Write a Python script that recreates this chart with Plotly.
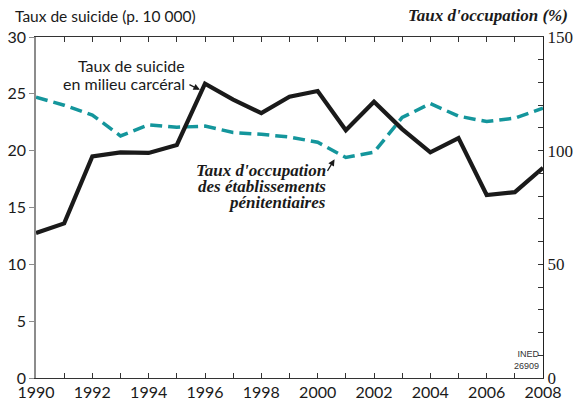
import plotly.graph_objects as go

years = list(range(1990, 2009))
suicide = [12.75, 13.6, 19.5, 19.85, 19.8, 20.5, 25.9, 24.5, 23.3, 24.75, 25.25,
           21.8, 24.3, 21.9, 19.85, 21.1, 16.1, 16.35, 18.5]
occupation = [123.5, 120.0, 115.7, 106.5, 111.4, 110.3, 110.8, 108.0, 107.2, 106.0, 103.7,
              97.0, 99.3, 114.6, 120.7, 115.2, 112.8, 114.3, 118.7]

x_ticktext = [str(y) if y % 2 == 0 else "" for y in years]
left_ticks = [0, 5, 10, 15, 20, 25, 30]
right_ticks = list(range(0, 151, 10))
right_ticktext = [str(v) if v % 50 == 0 else "" for v in right_ticks]

suicide_label = ["Taux de suicide", "en milieu carcéral"]
occupation_label = ["Taux d'occupation", "des établissements", "pénitentiaires"]

SANS = "Lato, Noto Sans, sans-serif"
SERIF = "Liberation Serif, DejaVu Serif, serif"
TEAL = "#14969c"

fig = go.Figure()

# occupation on the base axis (drawn first, so the black line sits on top)
fig.add_trace(go.Scatter(
    x=years, y=occupation, mode="lines", yaxis="y",
    line=dict(color=TEAL, width=3.5, dash="12px,6px"),
    showlegend=False, hoverinfo="skip"))

fig.add_trace(go.Scatter(
    x=years, y=suicide, mode="lines", yaxis="y2",
    line=dict(color="#1a1a1a", width=4.2),
    showlegend=False, hoverinfo="skip"))

fig.update_layout(
    width=581, height=400,
    margin=dict(l=36, r=38, t=37, b=22),
    paper_bgcolor="white", plot_bgcolor="white",
    font=dict(family=SANS, size=15, color="#1a1a1a"),
    xaxis=dict(
        range=[1990, 2008], tickvals=years, ticktext=x_ticktext,
        automargin=False, showgrid=False, zeroline=False,
        showline=True, linecolor="#333", linewidth=1.3, mirror="ticks",
        ticks="inside", ticklen=5, tickcolor="#333", tickwidth=1,
        ticklabelstandoff=0,
        tickfont=dict(family=SANS, size=16, color="#1a1a1a"),
    ),
    yaxis=dict(
        side="right", range=[0, 150], tickvals=right_ticks, ticktext=right_ticktext,
        automargin=False, showgrid=False, zeroline=False,
        showline=True, linecolor="#222", linewidth=1.3,
        ticks="inside", ticklen=5, tickcolor="#333", tickwidth=1,
        tickfont=dict(family=SERIF, size=17, color="#1a1a1a"),
    ),
    yaxis2=dict(
        overlaying="y", side="left", range=[0, 30], tickvals=left_ticks,
        automargin=False, showgrid=False, zeroline=False,
        showline=True, linecolor="#8c8c8c", linewidth=1.5,
        ticks="outside", ticklen=5, tickcolor="#8c8c8c", tickwidth=1,
        tickfont=dict(family=SANS, size=16, color="#1a1a1a"),
    ),
)

annotations = [
    dict(xref="paper", yref="paper", x=-0.045, y=1.03, xanchor="left", yanchor="bottom",
         text="Taux de suicide (p. 10 000)", showarrow=False,
         font=dict(family=SANS, size=15.5, color="#1a1a1a")),
    dict(xref="paper", yref="paper", x=1.053, y=1.03, xanchor="right", yanchor="bottom",
         text="<b><i>Taux d'occupation (%)</i></b>", showarrow=False,
         font=dict(family=SERIF, size=17, color="#1a1a1a")),
    dict(xref="x", yref="y2", x=1995.82, y=25.35, ax=-12, ay=-6, text="",
         showarrow=True, arrowhead=2, arrowsize=1, arrowwidth=1.3, arrowcolor="#1a1a1a"),
    dict(xref="x", yref="y", x=2000.6, y=96.2, ax=-8, ay=13, text="",
         showarrow=True, arrowhead=2, arrowsize=1, arrowwidth=1.3, arrowcolor="#1a1a1a"),
    dict(xref="paper", yref="paper", x=0.998, y=0.015, xanchor="right", yanchor="bottom",
         text="INED<br>26909", showarrow=False, align="right",
         font=dict(family="Liberation Sans", size=9, color="#333")),
]

# multi-line labels one line at a time to keep the tight leading of the original
for line, yv in zip(suicide_label, [27.45, 25.95]):
    annotations.append(dict(
        xref="x", yref="y2", x=1995.36, y=yv, xanchor="right", yanchor="middle",
        text=line, showarrow=False, font=dict(family=SANS, size=16, color="#1a1a1a")))

for line, yv in zip(occupation_label, [18.25, 16.84, 15.44]):
    annotations.append(dict(
        xref="x", yref="y2", x=2000.37, y=yv, xanchor="right", yanchor="middle",
        text="<b><i>" + line + "</i></b>", showarrow=False,
        font=dict(family=SERIF, size=17, color="#1a1a1a")))

fig.update_layout(annotations=annotations)

# the page's default body margin would push the figure off the window
fig.write_html("out.html", config={"displayModeBar": False},
               post_script="document.body.style.margin = '0px';")
